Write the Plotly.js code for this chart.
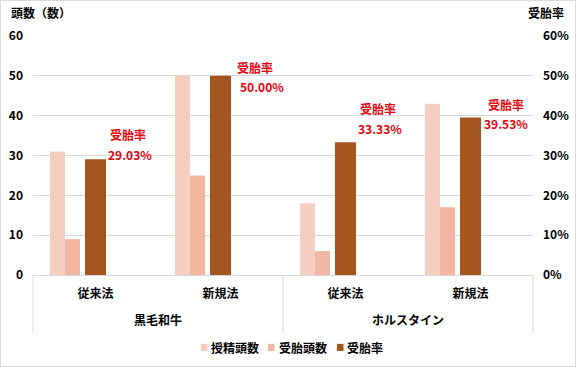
<!DOCTYPE html>
<html>
<head>
<meta charset="utf-8">
<script src="https://cdn.plot.ly/plotly-3.0.1.min.js"></script>
<style>
  html, body { margin: 0; padding: 0; background: #fff; }
  #wrap { position: relative; width: 576px; height: 367px; }
  #chart { width: 576px; height: 367px; }
  #frame { position: absolute; left: 0; top: 0; width: 574px; height: 365px; border: 1px solid #d9d9d9; pointer-events: none; }
</style>
</head>
<body>
<div id="wrap"><div id="chart"></div><div id="frame"></div></div>
<script>
// ---- data ----
const breeds = ['黒毛和牛', '黒毛和牛', 'ホルスタイン', 'ホルスタイン'];
const methods = ['従来法', '新規法', '従来法', '新規法'];
const inseminated = [31, 50, 18, 43];      // 授精頭数
const conceived = [9, 25, 6, 17];          // 受胎頭数
const conceptionRate = [0.2903, 0.5000, 0.3333, 0.3953]; // 受胎率
const seriesNames = ['授精頭数', '受胎頭数', '受胎率'];
const seriesColors = ['#F6CDC1', '#F1B7A2', '#A5561F'];
const breedGroups = ['黒毛和牛', 'ホルスタイン'];

// ---- layout helpers (positions in paper units) ----
const labelTitleX = [0.190, 0.444, 0.689, 0.945];
const labelTitleY = [0.586, 0.870, 0.695, 0.715];
const labelValueX = [0.194, 0.458, 0.694, 0.945];
const labelValueY = [0.506, 0.787, 0.615, 0.632];
const legendSwatchX = [0.336, 0.470, 0.608];   // left edge of swatch
const legendTextX = [0.352, 0.488, 0.624];
const legendY = -0.305;

const FONT = '"Noto Sans CJK JP", "Noto Sans", sans-serif';
const catKeys = breeds.map((b, i) => b + '・' + methods[i]);

const traces = [
  { type: 'bar', name: seriesNames[0], x: catKeys, y: inseminated,
    marker: { color: seriesColors[0] }, offset: -0.364, width: 0.12, yaxis: 'y' },
  { type: 'bar', name: seriesNames[1], x: catKeys, y: conceived,
    marker: { color: seriesColors[1] }, offset: -0.244, width: 0.12, yaxis: 'y' },
  { type: 'bar', name: seriesNames[2], x: catKeys, y: conceptionRate,
    marker: { color: seriesColors[2] }, offset: -0.084, width: 0.168, yaxis: 'y2' }
];

const BOLD = (c) => ({ family: FONT, size: 12, color: c, weight: 'bold' });

const annotations = [
  { xref: 'paper', yref: 'paper', x: 0, y: 1.055, xanchor: 'left', yanchor: 'bottom',
    xshift: -24, text: '頭数（数）', showarrow: false, font: BOLD('#000') },
  { xref: 'paper', yref: 'paper', x: 1, y: 1.055, xanchor: 'right', yanchor: 'bottom',
    xshift: 33, text: '受胎率', showarrow: false, font: BOLD('#000') }
];
conceptionRate.forEach((r, i) => {
  annotations.push({ xref: 'paper', yref: 'paper', x: labelTitleX[i], y: labelTitleY[i],
    xanchor: 'center', yanchor: 'middle',
    text: '受胎率', showarrow: false, font: BOLD('#E8000B') });
  annotations.push({ xref: 'paper', yref: 'paper', x: labelValueX[i], y: labelValueY[i],
    xanchor: 'center', yanchor: 'middle',
    text: (r * 100).toFixed(2) + '%', showarrow: false, font: BOLD('#E8000B') });
});
// group (breed) labels under the category labels
breedGroups.forEach((g, i) => {
  annotations.push({ xref: 'paper', yref: 'paper', x: (i + 0.5) / breedGroups.length, y: -0.188,
    xanchor: 'center', yanchor: 'middle', text: g, showarrow: false, font: BOLD('#000') });
});
// legend text
seriesNames.forEach((n, i) => {
  annotations.push({ xref: 'paper', yref: 'paper', x: legendTextX[i], y: legendY,
    xanchor: 'left', yanchor: 'middle', text: n, showarrow: false, font: BOLD('#000') });
});

const shapes = [];
// dividers for the breed groups
[0, 0.5, 1].forEach(px => {
  shapes.push({ type: 'line', xref: 'paper', yref: 'paper', x0: px, x1: px, y0: 0, y1: -0.243,
    line: { color: '#d9d9d9', width: 1 } });
});
// legend swatches
seriesColors.forEach((c, i) => {
  shapes.push({ type: 'rect', xref: 'paper', yref: 'paper',
    x0: legendSwatchX[i], x1: legendSwatchX[i] + 0.013, y0: legendY - 0.013, y1: legendY + 0.017,
    fillcolor: c, line: { width: 0 } });
});

const TICKFONT = BOLD('#000');

const layout = {
  width: 576, height: 367,
  margin: { l: 33, r: 43, t: 36, b: 92, autoexpand: false },
  paper_bgcolor: '#fff', plot_bgcolor: '#fff',
  font: { family: FONT, size: 12, color: '#000' },
  barmode: 'overlay',
  showlegend: false,
  xaxis: { type: 'category', categoryorder: 'array', categoryarray: catKeys,
    tickmode: 'array', tickvals: catKeys, ticktext: methods,
    showgrid: false, zeroline: false, showline: false, ticks: '',
    ticklabelstandoff: 10, automargin: false, range: [-0.5, 3.5],
    tickfont: TICKFONT },
  yaxis: { range: [0, 60], dtick: 10, showgrid: true, gridcolor: '#d9d9d9', gridwidth: 1,
    zeroline: true, zerolinecolor: '#d9d9d9', showline: false, ticks: '',
    ticklabelstandoff: 9, tickfont: TICKFONT, automargin: false },
  yaxis2: { range: [0, 0.6], dtick: 0.1, tickformat: '.0%', overlaying: 'y', side: 'right',
    showgrid: false, zeroline: false, showline: false, ticks: '',
    ticklabelstandoff: 9, tickfont: TICKFONT, automargin: false },
  annotations: annotations,
  shapes: shapes
};

Plotly.newPlot('chart', traces, layout, { displayModeBar: false, staticPlot: true });
</script>
</body>
</html>
